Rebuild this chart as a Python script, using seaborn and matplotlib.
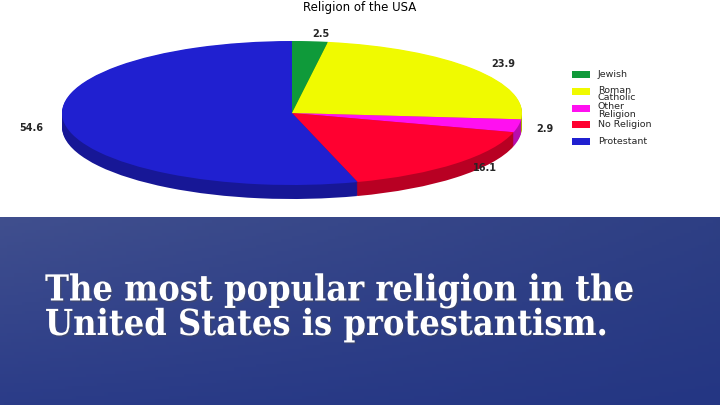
import numpy as np
import matplotlib
matplotlib.use("Agg")
import matplotlib.pyplot as plt
import matplotlib.colors as mcolors
import matplotlib.patheffects as pe
from matplotlib.patches import Rectangle
import seaborn as sns

# data
religions = ["Jewish", "Roman\nCatholic", "Other\nReligion", "No Religion", "Protestant"]
shares = [2.5, 23.9, 2.9, 16.1, 54.6]
share_labels = ["2.5", "23.9", "2.9", "16.1", "54.6"]
colors = ["#0f9a3a", "#f0fa00", "#ff10f0", "#ff0030", "#2020d0"]

sns.set_style("white")
plt.rcParams["font.family"] = ["DejaVu Sans"]

W, H = 720, 405
fig = plt.figure(figsize=(7.2, 4.05), dpi=100)

# background: white top, blue gradient slide band at the bottom
bg = fig.add_axes([0, 0, 1, 1])
bg.set_xlim(0, W)
bg.set_ylim(H, 0)
bg.axis("off")
band_top = 217
gx = np.linspace(0, 1, 200)
gy = np.linspace(0, 1, 60)
GX, GY = np.meshgrid(gx, gy)
c_tl = np.array(mcolors.to_rgb("#404f8e"))
c_tr = np.array(mcolors.to_rgb("#2e3f84"))
c_bl = np.array(mcolors.to_rgb("#2b3c88"))
c_br = np.array(mcolors.to_rgb("#243683"))
grad = ((1 - GX)[..., None] * (1 - GY)[..., None] * c_tl + GX[..., None] * (1 - GY)[..., None] * c_tr
        + (1 - GX)[..., None] * GY[..., None] * c_bl + GX[..., None] * GY[..., None] * c_br)
bg.imshow(grad, extent=[0, W, H, band_top], aspect="auto", zorder=0)

bg.text(45, 335, "The most popular religion in the\nUnited States is protestantism.",
        color="white", fontsize=25.8, fontweight="bold", fontstretch="condensed",
        family=["DejaVu Serif"], va="baseline", ha="left", linespacing=1.0,
        path_effects=[pe.withSimplePatchShadow(offset=(1, -1), alpha=0.4)])

bg.text(360, 8, "Religion of the USA", fontsize=8.5, ha="center", va="center", color="black")

# pie axes: one data unit = rx px horizontally, ry px vertically -> flattened ellipse
cx, cy, rx, ry = 292, 113, 230, 72
ax = fig.add_axes([0, 0, 1, 1])
ax.patch.set_alpha(0)
depth = 14 / ry
dark = [tuple(np.array(mcolors.to_rgb(c)) * 0.72) for c in colors]
for d in np.linspace(depth, 0.01, 14):
    ax.pie(shares, colors=dark, startangle=90, counterclock=False, radius=1,
           center=(0, -d), wedgeprops=dict(linewidth=0), frame=False)
wedges, texts = ax.pie(shares, colors=colors, startangle=90, counterclock=False, radius=1,
                       center=(0, 0), labels=share_labels, labeldistance=1.1,
                       wedgeprops=dict(linewidth=0), frame=False,
                       textprops=dict(fontsize=7, fontweight="bold"))
texts[-1].set_position((-1.08, -0.21))
texts[2].set_position((1.06, -0.22))
ax.set_aspect("auto")
ax.set_xlim(-cx / rx, (W - cx) / rx)
ax.set_ylim(-(H - cy) / ry, cy / ry)
ax.axis("off")

# legend: evenly spaced entries, two-line labels spill over like the original
for i, (name, col) in enumerate(zip(religions, colors)):
    y = 74.5 + i * 16.8
    bg.add_patch(Rectangle((572, y - 3.5), 18, 7, color=col, lw=0, zorder=3))
    bg.text(598, y + (2.5 if "\n" in name else 0), name, fontsize=6.8, va="center",
            ha="left", linespacing=0.78, zorder=3)

fig.savefig("out.png", dpi=100)
